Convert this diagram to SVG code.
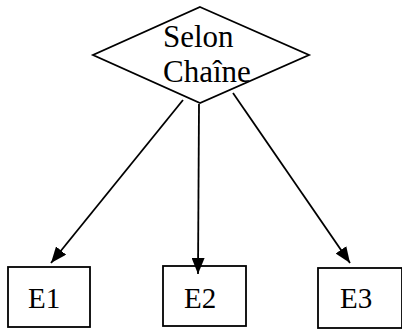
<svg xmlns="http://www.w3.org/2000/svg" width="402" height="329" viewBox="0 0 402 329">
<defs>
<style>
.shape{fill:#fff;stroke:#000;stroke-width:1.8}
.lbl{font-family:"Liberation Serif","Times New Roman",serif;fill:#000}
.edge{stroke:#000;stroke-width:1.8;fill:none}
</style>
<marker id="ah" viewBox="0 0 16 13" refX="16" refY="6.5" markerWidth="16" markerHeight="13" markerUnits="userSpaceOnUse" orient="auto">
<path d="M0,0 L16,6.5 L0,13 Z" fill="#000"/>
</marker>
</defs>
<rect width="402" height="329" fill="#fff"/>
<g id="decision">
<polygon class="shape" points="200,7 309,55 200,103 93,55"/>
<text class="lbl" x="163" y="47" font-size="31">Selon</text>
<text class="lbl" x="163" y="82" font-size="31">Chaîne</text>
</g>
<g id="E1">
<rect class="shape" x="8" y="267" width="82" height="60"/>
<text class="lbl" x="28" y="308" font-size="29">E1</text>
</g>
<g id="E2">
<rect class="shape" x="163" y="266" width="83" height="60"/>
<text class="lbl" x="184" y="308" font-size="29">E2</text>
</g>
<g id="E3">
<rect class="shape" x="318" y="268" width="84" height="60"/>
<text class="lbl" x="340" y="308" font-size="29">E3</text>
</g>
<g id="connectors">
<line class="edge" x1="183" y1="100" x2="51" y2="263" marker-end="url(#ah)"/>
<line class="edge" x1="199" y1="104" x2="198" y2="274" marker-end="url(#ah)"/>
<line class="edge" x1="233" y1="93" x2="350" y2="263" marker-end="url(#ah)"/>
</g>
</svg>
